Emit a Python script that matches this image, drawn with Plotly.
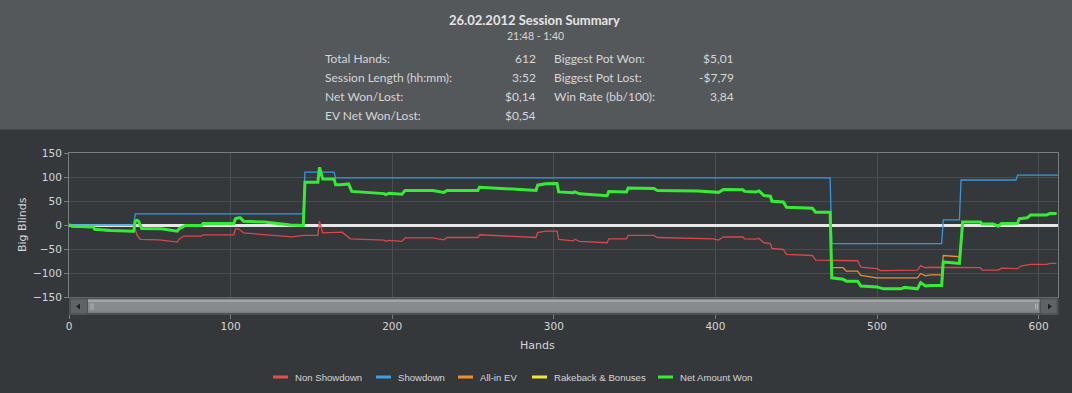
import plotly.graph_objects as go

# ---------------- data ----------------
x_ticks = [0, 100, 200, 300, 400, 500, 600]
y_ticks = [-150, -100, -50, 0, 50, 100, 150]

non_showdown_hands = [0, 2, 15, 16, 26, 40, 41, 42, 44, 56, 67, 68, 71, 82, 83, 102, 103, 105, 108, 121,
                      138, 145, 154, 155, 157, 169, 174, 182, 195, 196, 198, 206, 208, 225, 232, 234, 253,
                      254, 275, 289, 290, 295, 302, 303, 312, 313, 316, 331, 333, 334, 345, 346, 362, 364,
                      389, 399, 402, 405, 417, 418, 425, 427, 430, 434, 435, 442, 444, 460, 462, 471, 488,
                      490, 500, 502, 515, 525, 527, 530, 533, 552, 555, 564, 565, 575, 577, 587, 589, 595,
                      605, 607, 611]
non_showdown_bb = [1, -2.5, -4, -9, -11.4, -12.8, -8, -20, -30, -31, -35.7, -30, -23, -23, -20.4, -20.4, -8,
                   -8, -16.6, -20, -24.6, -21.8, -21.8, 8, -16.3, -15, -28.7, -30, -31.5, -34, -32, -34,
                   -26.7, -26.7, -31, -26, -26, -20.4, -24.6, -26, -15.6, -12.8, -12.8, -30, -33, -29.5,
                   -34, -37, -37, -28.7, -28.7, -21.8, -21.8, -26, -27, -28.7, -31.5, -24.6, -25, -28.7,
                   -29.3, -28, -37, -38.5, -48.8, -51, -61, -63.5, -73, -73, -74.5, -88, -91, -95, -95,
                   -94, -84.5, -89, -88, -88, -89, -89, -94, -94, -90, -91, -85.5, -82, -82, -80, -80]

showdown_hands = [0, 40, 41, 145, 146, 164, 165, 471, 472, 540, 541, 551, 552, 586, 587, 612]
showdown_bb = [0, 0, 23, 23, 110, 110, 98, 98, -39, -39, 10.7, 10.7, 93.8, 93.8, 104, 104]

allin_ev_hands = [0, 2, 15, 16, 26, 40, 41, 42, 43, 45, 57, 67, 68, 70, 72, 82, 83, 102, 103, 105, 106,
                  108, 121, 137, 145, 146, 154, 155, 157, 164, 165, 168, 173, 175, 183, 195, 196, 198, 206,
                  208, 225, 232, 234, 253, 254, 265, 276, 289, 290, 295, 302, 303, 312, 313, 316, 331, 333,
                  334, 345, 346, 362, 364, 389, 402, 405, 417, 418, 425, 427, 430, 434, 435, 442, 444, 460,
                  462, 471, 472, 479, 481, 488, 490, 500, 515, 525, 527, 530, 533, 540, 541, 551, 553, 564,
                  565, 572, 575, 577, 587, 588, 593, 595, 605, 607, 611]
allin_ev_bb = [1, -2.5, -4, -9, -11.4, -12.8, 8, 10, 8, -7.3, -8, -12.8, -8, -3.8, -1, -1, 3, 3, 13, 15, 15,
               8, 6, 0, -1, 89, 89, 120, 96, 96, 84, 84, 85.5, 70, 68, 65.4, 63.4, 66, 64, 72, 72, 68, 72,
               72, 78.6, 77, 74, 72, 83, 86, 86.5, 69, 67, 69, 65, 61, 61, 69.6, 69, 77, 76, 72, 71, 68, 74,
               73.5, 70, 69, 71, 61.3, 60, 49.5, 48, 37, 35, 26.7, 26.7, -89, -89, -96, -96, -105, -110,
               -110, -110, -101, -106, -104, -104, -63.5, -66, 6, 6, 2, 2, -2.4, 3, 3.5, 12.8, 15, 21, 21,
               24, 24]

rakeback_hands = [0, 2, 15, 16, 26, 40, 41, 42, 43, 45, 57, 67, 68, 70, 72, 82, 83, 102, 103, 105, 106,
                  108, 121, 137, 145, 146, 154, 155, 157, 164, 165, 168, 173, 175, 183, 195, 196, 198, 206,
                  208, 225, 232, 234, 253, 254, 265, 276, 289, 290, 295, 302, 303, 312, 313, 316, 331, 333,
                  334, 345, 346, 362, 364, 389, 402, 405, 417, 418, 425, 427, 430, 434, 435, 442, 444, 460,
                  462, 471, 472, 479, 481, 488, 490, 500, 504, 515, 517, 525, 527, 530, 533, 540, 541, 551,
                  553, 564, 565, 572, 575, 577, 587, 588, 593, 595, 605, 607, 611]
rakeback_bb = [0, -3.5, -5, -10, -12.4, -13.8, 8, 10, 8, -7.3, -8, -12.8, -8, -3.8, -1, -1, 3, 3, 13, 15,
               15, 8, 6, 0, -1, 89, 89, 120, 96, 96, 84, 84, 85.5, 70, 68, 65.4, 63.4, 66, 64, 72, 72, 68,
               72, 72, 78.6, 77, 74, 72, 83, 86, 86.5, 69, 67, 69, 65, 61, 61, 69.6, 69, 77, 76, 72, 71, 68,
               74, 73.5, 70, 69, 71, 61.3, 60, 49.5, 48, 37, 35, 26.7, 26.7, -110, -113, -117, -117, -127,
               -129, -133, -133, -130, -133, -120, -127, -126, -126, -77, -80, 6, 6, 2, 2, -2.4, 3, 3.5,
               12.8, 15, 21, 21, 24, 24]

net_won_hands = [0, 2, 15, 16, 26, 40, 41, 42, 43, 45, 57, 67, 68, 70, 72, 82, 83, 102, 103, 105, 106,
                 108, 121, 137, 145, 146, 154, 155, 157, 164, 165, 168, 173, 175, 183, 195, 196, 198, 206,
                 208, 225, 232, 234, 253, 254, 265, 276, 289, 290, 295, 302, 303, 312, 313, 316, 331, 333,
                 334, 345, 346, 362, 364, 389, 402, 405, 417, 418, 425, 427, 430, 434, 435, 442, 444, 460,
                 462, 471, 472, 479, 481, 488, 490, 500, 504, 515, 517, 525, 527, 530, 533, 540, 541, 551,
                 553, 564, 565, 572, 575, 577, 587, 588, 593, 595, 605, 607, 611]
net_won_bb = [1, -2.5, -4, -9, -11.4, -12.8, 8, 10, 8, -7.3, -8, -12.8, -8, -3.8, -1, -1, 3, 3, 13, 15, 15,
              8, 6, 0, -1, 89, 89, 120, 96, 96, 84, 84, 85.5, 70, 68, 65.4, 63.4, 66, 64, 72, 72, 68, 72,
              72, 78.6, 77, 74, 72, 83, 86, 86.5, 69, 67, 69, 65, 61, 61, 69.6, 69, 77, 76, 72, 71, 68, 74,
              73.5, 70, 69, 71, 61.3, 60, 49.5, 48, 37, 35, 26.7, 26.7, -110, -113, -117, -117, -127, -129,
              -133, -133, -130, -133, -120, -127, -126, -126, -77, -80, 6, 6, 2, 2, -2.4, 3, 3.5, 12.8, 15,
              21, 21, 24, 24]

summary_left_labels = ["Total Hands:", "Session Length (hh:mm):", "Net Won/Lost:", "EV Net Won/Lost:"]
summary_left_values = ["612", "3:52", "$0,14", "$0,54"]
summary_right_labels = ["Biggest Pot Won:", "Biggest Pot Lost:", "Win Rate (bb/100):"]
summary_right_values = ["$5,01", "-$7,79", "3,84"]

# ---------------- geometry helpers (pixel -> paper) ----------------
W, H = 1072, 393
PL, PR, PT, PB = 69, 1058, 153, 297


def px(x):
    return (x - PL) / (PR - PL)


def py(y):
    return (PB - y) / (PB - PT)


BG = "#35383b"
HEADER = "#55585b"
GRID = "#4a4d51"
BORDER = "#7a7d80"
TXT = "#d6d6d6"

fig = go.Figure()
series = [
    ("Non Showdown", non_showdown_hands, non_showdown_bb, "#d9474a", 1.3, "#e64c4c", 273),
    ("Showdown", showdown_hands, showdown_bb, "#3499dc", 1.3, "#38a2e4", 376),
    ("All-in EV", allin_ev_hands, allin_ev_bb, "#ec8c2c", 1.3, "#f48d2c", 458),
    ("Rakeback & Bonuses", rakeback_hands, rakeback_bb, "#eee23a", 1.3, "#f2e53a", 532),
    ("Net Amount Won", net_won_hands, net_won_bb, "#35ec35", 3, "#35ef35", 658),
]
for name, xs, ys, col, w, _, _ in series:
    fig.add_trace(go.Scatter(x=xs, y=ys, mode="lines", name=name, showlegend=False,
                             line=dict(color=col, width=w), hoverinfo="skip"))

shapes = []
annotations = []
# header band
shapes.append(dict(type="rect", xref="paper", yref="paper", x0=px(0), x1=px(W), y0=py(129.5), y1=py(0),
                   fillcolor=HEADER, line=dict(width=0), layer="below"))


def rect(x0, x1, y0, y1, col):
    shapes.append(dict(type="rect", xref="paper", yref="paper", x0=px(x0), x1=px(x1), y0=py(y1), y1=py(y0),
                       fillcolor=col, line=dict(width=0), layer="above"))


# scrollbar under the plot
rect(69, 1058.5, 297.5, 315, "#4f5255")
rect(71, 87, 299.5, 313, "#606366")
rect(88, 1039.5, 299.5, 313, "#888b8e")
rect(88, 1039.5, 299.5, 302, "#a2a5a8")
rect(88, 1039.5, 311.5, 313, "#7a7d80")
rect(1041, 1056.5, 299.5, 313, "#606366")
for gx in (90.5, 92.5, 1035, 1037):
    rect(gx, gx + 1, 303.5, 309.5, "#b4b7ba")


def tri(points, col):
    path = "M " + " L ".join(f"{px(a)},{py(b)}" for a, b in points) + " Z"
    shapes.append(dict(type="path", xref="paper", yref="paper", path=path, fillcolor=col,
                       line=dict(width=0), layer="above"))


tri([(76, 306.5), (80, 303.5), (80, 309.5)], "#1e2022")
tri([(1052, 306.5), (1048, 303.5), (1048, 309.5)], "#1e2022")

# legend (drawn manually for the short legend swatches)
LEG_Y = 377
for name, _, _, _, _, lcol, lx in series:
    shapes.append(dict(type="line", xref="paper", yref="paper", x0=px(lx), x1=px(lx + 15), y0=py(LEG_Y),
                       y1=py(LEG_Y), line=dict(color=lcol, width=3), layer="above"))
    annotations.append(dict(text=name, x=px(lx + 20), y=py(LEG_Y), xref="paper", yref="paper",
                            showarrow=False, xanchor="left", yanchor="middle",
                            font=dict(family="Liberation Sans", size=9.6, color=TXT)))

HF = "Lato"
annotations.append(dict(text="<b>26.02.2012 Session Summary</b>", x=px(534), y=py(20), xref="paper",
                        yref="paper", showarrow=False, xanchor="center", yanchor="middle",
                        font=dict(family=HF, size=13, color="#e4e4e4")))
annotations.append(dict(text="21:48 - 1:40", x=px(535), y=py(36), xref="paper", yref="paper",
                        showarrow=False, xanchor="center", yanchor="middle",
                        font=dict(family=HF, size=10.5, color=TXT)))
row_y = [58.3, 77.3, 96.7, 115.7]
for i, (lab, val) in enumerate(zip(summary_left_labels, summary_left_values)):
    annotations.append(dict(text=lab, x=px(323), y=py(row_y[i]), xref="paper", yref="paper",
                            showarrow=False, xanchor="left", yanchor="middle",
                            font=dict(family=HF, size=12, color=TXT)))
    annotations.append(dict(text=val, x=px(538), y=py(row_y[i]), xref="paper", yref="paper",
                            showarrow=False, xanchor="right", yanchor="middle",
                            font=dict(family=HF, size=12, color=TXT)))
for i, (lab, val) in enumerate(zip(summary_right_labels, summary_right_values)):
    annotations.append(dict(text=lab, x=px(551.5), y=py(row_y[i]), xref="paper", yref="paper",
                            showarrow=False, xanchor="left", yanchor="middle",
                            font=dict(family=HF, size=12, color=TXT)))
    annotations.append(dict(text=val, x=px(736), y=py(row_y[i]), xref="paper", yref="paper",
                            showarrow=False, xanchor="right", yanchor="middle",
                            font=dict(family=HF, size=12, color=TXT)))
# axis titles
annotations.append(dict(text="Big Blinds", x=px(22), y=py(225), xref="paper", yref="paper", textangle=-90,
                        showarrow=False, xanchor="center", yanchor="middle",
                        font=dict(family="DejaVu Sans", size=11, color=TXT)))
annotations.append(dict(text="Hands", x=px(537), y=py(345), xref="paper", yref="paper",
                        showarrow=False, xanchor="center", yanchor="middle",
                        font=dict(family="DejaVu Sans", size=11, color=TXT)))

fig.update_layout(
    width=W, height=H,
    margin=dict(l=PL, r=W - PR, t=PT, b=H - PB, pad=0, autoexpand=False),
    paper_bgcolor=BG, plot_bgcolor=BG,
    shapes=shapes, annotations=annotations,
    showlegend=False,
    xaxis=dict(range=[0, 612], tickvals=x_ticks, showgrid=True, gridcolor=GRID, gridwidth=1,
               zeroline=False, showline=True, linecolor=BORDER, mirror=True, ticks="outside",
               ticklen=21, tickcolor=BORDER, ticklabelstandoff=-2,
               tickfont=dict(family="DejaVu Sans", size=10.5, color=TXT), fixedrange=True),
    yaxis=dict(range=[-150, 150], tickvals=y_ticks, showgrid=True, gridcolor=GRID, gridwidth=1,
               zeroline=True, zerolinecolor="#e8e8e8", zerolinewidth=3, showline=True, linecolor=BORDER,
               mirror=True, ticks="outside", ticklen=4, tickcolor=BORDER,
               tickfont=dict(family="DejaVu Sans", size=10.5, color=TXT), fixedrange=True),
)

fig.write_html("out.html", config={"displayModeBar": False},
               post_script="document.body.style.margin='0px';")
